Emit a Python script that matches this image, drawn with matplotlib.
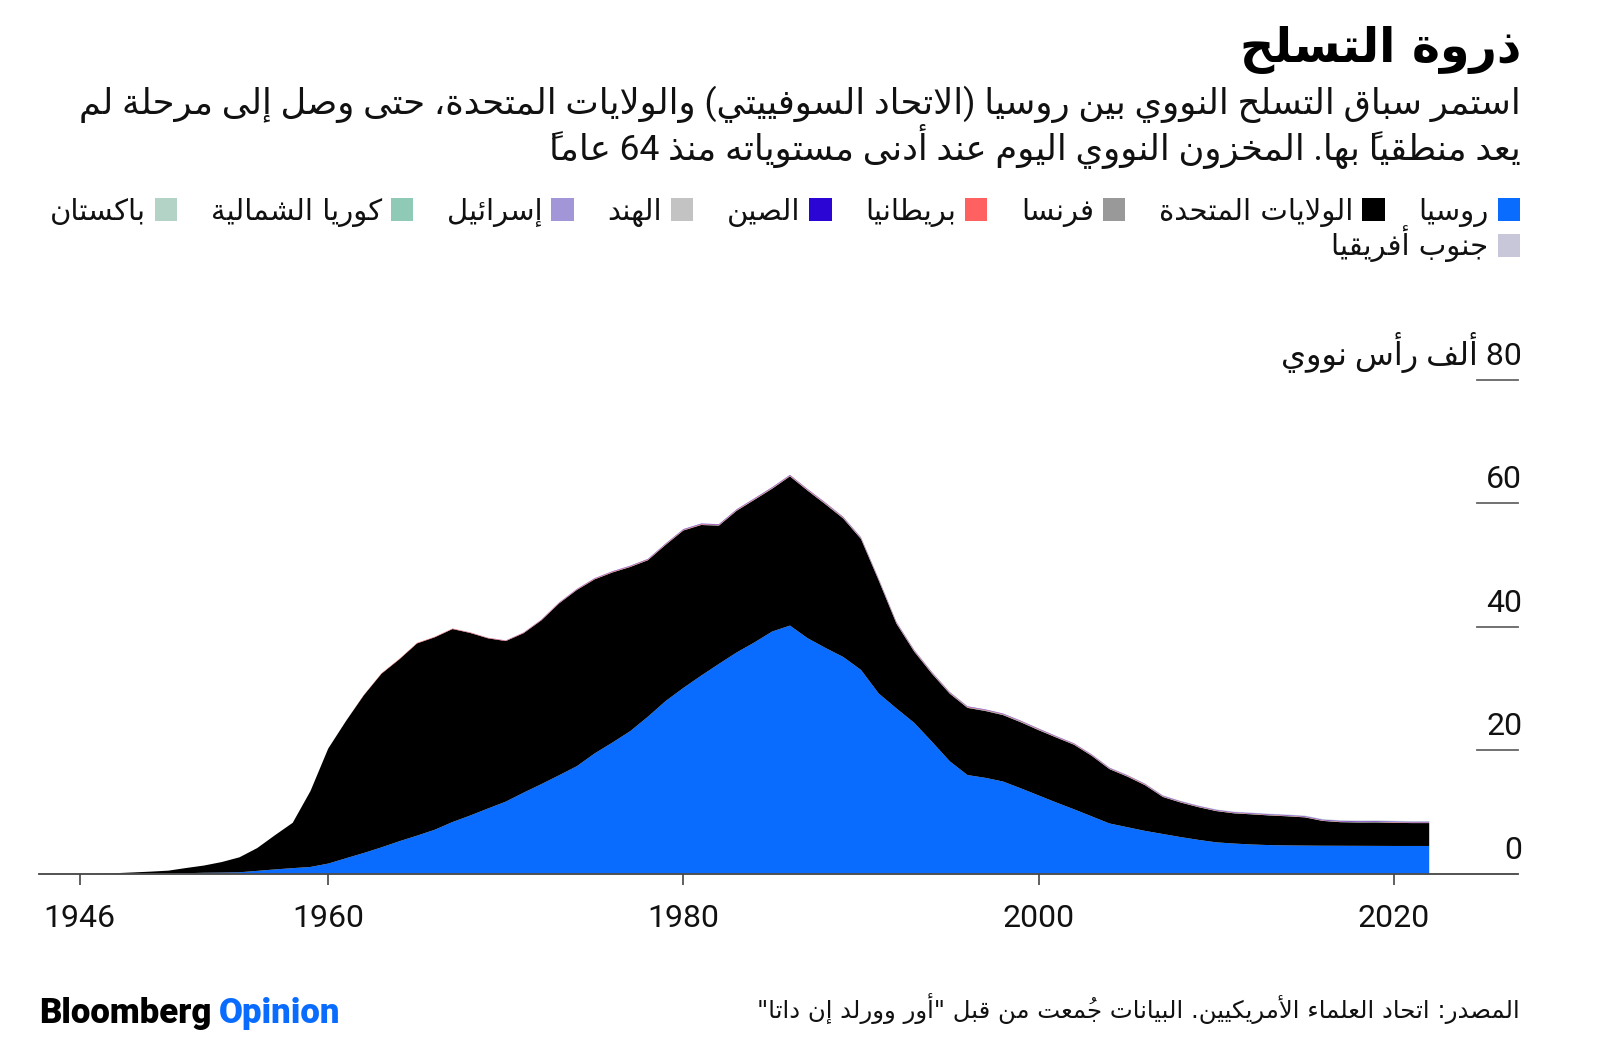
import re
import matplotlib
matplotlib.use("Agg")
import matplotlib.pyplot as plt
from matplotlib.patches import Rectangle

W, H = 1600, 1043

# ---- data (warheads) ----
years = list(range(1945, 2023))

russia = [0, 0, 0, 0, 1, 5, 25, 50, 120, 150,
          200, 426, 660, 869, 1060, 1605, 2471, 3322, 4238, 5221,
          6129, 7089, 8339, 9399, 10538, 11643, 13092, 14478, 15915, 17385,
          19443, 21205, 23044, 25393, 27935, 30062, 32049, 33952, 35804, 37431,
          39197, 40159, 38107, 36538, 35078, 32980, 29154, 26734, 24403, 21339,
          18179, 15942, 15500, 14900, 13800, 12650, 11500, 10400, 9250, 8100,
          7500, 6900, 6400, 5900, 5450, 5050, 4850, 4700, 4600, 4550,
          4520, 4500, 4490, 4480, 4470, 4460, 4460, 4460]

usa = [2, 9, 13, 50, 170, 299, 438, 841, 1169, 1703,
       2422, 3692, 5543, 7345, 12298, 18638, 22229, 25540, 28133, 29463,
       31139, 31175, 31255, 29561, 27552, 26008, 25830, 26516, 27835, 28537,
       28200, 27550, 26600, 25350, 25300, 25500, 24400, 22400, 22950, 23100,
       23130, 24170, 23900, 23270, 22430, 21211, 18306, 13731, 11536, 11012,
       10953, 10886, 10829, 10763, 10698, 10577, 10526, 10457, 9800, 8800,
       8200, 7400, 6000, 5600, 5300, 5066, 4897, 4881, 4804, 4717,
       4571, 4018, 3822, 3785, 3805, 3750, 3708, 3708]

france = [0] * 19 + [1, 8, 9, 9, 9, 9, 9, 12, 18, 30,
                     40, 47, 52, 56, 60, 62, 63, 68, 72, 78,
                     85, 90, 89, 105, 115, 126, 126, 134, 135, 131,
                     127, 125, 112, 112, 112, 117, 117] + [87] * 7 + [75] * 12 + [73] * 3
uk = [0] * 9 + [2, 3, 4, 5, 6, 8, 10, 13, 52, 70, 78, 78] + [70] * 6 + [75, 80, 81] \
     + [87] * 14 + [75] * 7 + [70] * 11 + [60] * 3 + [56] * 5 + [54] * 5 + [56] * 3
china = [0] * 19 + [1, 1, 5, 6, 9, 12, 19, 25, 32, 38,
                    43, 46, 49, 52, 55, 59, 62, 65, 67, 60,
                    60, 60, 56, 57, 57, 58] + [58] * 17 \
        + [60, 62, 62, 64, 65, 68, 70, 72, 74, 75] + [88] * 6
india = [0] * 53 + [5, 6, 8, 10, 12, 14, 16, 18, 20, 22,
                   24, 26, 27, 28, 29, 30, 31, 32, 33, 34,
                   36, 38, 40, 40, 40]
israel = [0] * 22 + [3, 5, 6, 8, 10, 11, 12, 13, 14, 15] + [16] * 10 + [18] * 15 + [20] * 21
north_korea = [0] * 61 + [1, 1, 1, 1, 1, 2, 2, 2, 2, 3, 3, 3, 4, 5, 7, 8, 8]
pakistan = [0] * 53 + [2, 3, 5, 6, 8, 10, 12, 14, 16, 18,
                      20, 22, 24, 26, 28, 30, 31, 32, 33, 34,
                      35, 36, 38, 40, 41]
south_africa = [0] * 34 + [1] * 12 + [0] * 32

series_names = ["روسيا", "الولايات المتحدة", "فرنسا", "بريطانيا", "الصين",
                "الهند", "إسرائيل", "كوريا الشمالية", "باكستان", "جنوب أفريقيا"]
series_colors = ["#0a6cff", "#000000", "#999999", "#ff6161", "#2a05d3",
                 "#c3c3c3", "#a296d8", "#8fcab6", "#b4d3c7", "#c8c7d9"]

x_ticks = [1946, 1960, 1980, 2000, 2020]
y_ticks = [0, 20000, 40000, 60000, 80000]
y_tick_labels = ["0", "20", "40", "60", "80 ألف رأس نووي"]

title = "ذروة التسلح"
subtitle = ["استمر سباق التسلح النووي بين روسيا (الاتحاد السوفييتي) والولايات المتحدة، حتى وصل إلى مرحلة لم",
            "يعد منطقياً بها. المخزون النووي اليوم عند أدنى مستوياته منذ 64 عاماً"]
source = 'المصدر: اتحاد العلماء الأمريكيين. البيانات جُمعت من قبل "أور وورلد إن داتا"'


# ---- minimal Arabic shaping + right-to-left ordering (no reshaper lib available) ----
DUAL = {'ئ': 0xFE89, 'ب': 0xFE8F, 'ت': 0xFE95, 'ث': 0xFE99, 'ج': 0xFE9D, 'ح': 0xFEA1,
        'خ': 0xFEA5, 'س': 0xFEB1, 'ش': 0xFEB5, 'ص': 0xFEB9, 'ض': 0xFEBD, 'ط': 0xFEC1,
        'ظ': 0xFEC5, 'ع': 0xFEC9, 'غ': 0xFECD, 'ف': 0xFED1, 'ق': 0xFED5, 'ك': 0xFED9,
        'ل': 0xFEDD, 'م': 0xFEE1, 'ن': 0xFEE5, 'ه': 0xFEE9, 'ي': 0xFEF1}
RIGHT = {'آ': 0xFE81, 'أ': 0xFE83, 'ؤ': 0xFE85, 'إ': 0xFE87, 'ا': 0xFE8D, 'ة': 0xFE93,
         'د': 0xFEA9, 'ذ': 0xFEAB, 'ر': 0xFEAD, 'ز': 0xFEAF, 'و': 0xFEED, 'ى': 0xFEEF}
LAMALEF = {'آ': 0xFEF5, 'أ': 0xFEF7, 'إ': 0xFEF9, 'ا': 0xFEFB}
MARKS = {chr(c) for c in range(0x064B, 0x0653)}


def shape(text):
    ch = list(text)
    n = len(ch)

    def near(i, step):
        j = i + step
        while 0 <= j < n and ch[j] in MARKS:
            j += step
        return ch[j] if 0 <= j < n else ''

    out, i = [], 0
    while i < n:
        c = ch[i]
        joins_prev = near(i, -1) in DUAL
        if c == 'ل':
            j = i + 1
            while j < n and ch[j] in MARKS:
                j += 1
            if j < n and ch[j] in LAMALEF:
                out.append(chr(LAMALEF[ch[j]] + (1 if joins_prev else 0)))
                out.extend(ch[i + 1:j])
                i = j + 1
                continue
        if c in DUAL:
            nxt = near(i, 1)
            joins_next = nxt in DUAL or nxt in RIGHT
            form = 3 if (joins_prev and joins_next) else 2 if joins_next else 1 if joins_prev else 0
            out.append(chr(DUAL[c] + form))
        elif c in RIGHT:
            out.append(chr(RIGHT[c] + (1 if joins_prev else 0)))
        elif c == 'ء':
            out.append('\uFE80')
        else:
            out.append(c)
        i += 1
    return ''.join(out)


def ar(text):
    # reverse everything except digit runs; marks then land just before their base
    runs = re.findall(r'[0-9]+|.', shape(text))
    mirror = {'(': ')', ')': '('}
    return ''.join(mirror.get(c, c) for c in reversed(runs))


def P(x, y):
    return x / W, 1 - y / H


AR = ['DejaVu Sans']
MIX = ['Roboto', 'DejaVu Sans']

fig = plt.figure(figsize=(W / 100, H / 100), dpi=100)
fig.patch.set_facecolor('white')
rend = fig.canvas.get_renderer()


def fit(t, width):
    w = t.get_window_extent(rend).width
    t.set_fontsize(t.get_fontsize() * width / w)
    return t


# ---- chart ----
X0, X1, Y0, Y80 = 38.8, 1518.0, 873.5, 379.6
ax = fig.add_axes([X0 / W, 1 - Y0 / H, (X1 - X0) / W, (Y0 - Y80) / H])
ax.stackplot(years, russia, usa, france, uk, china, india, israel, north_korea,
             pakistan, south_africa, colors=series_colors, linewidth=0)
ax.set_xlim(1943.7, 2027.0)
ax.set_ylim(0, 80000)
for s in ['top', 'right', 'left']:
    ax.spines[s].set_visible(False)
ax.spines['bottom'].set_color('#444')
ax.spines['bottom'].set_linewidth(1.3)
ax.set_xticks(x_ticks)
ax.set_xticklabels([str(v) for v in x_ticks], fontsize=23, family='Roboto', color='#111')
ax.tick_params(axis='x', length=8, width=1.2, color='#444', pad=14)
ax.set_yticks([])

ytr = ax.get_yaxis_transform()
for v, lab in zip(y_ticks, y_tick_labels):
    if v > 0:
        ax.plot([0.972, 1.0], [v, v], transform=ytr, color='#666', lw=1.3, clip_on=False)
    ax.annotate(ar(lab), xy=(1.0, v), xycoords=ytr, xytext=(3, 10.5),
                textcoords='offset points', ha='right', va='baseline',
                fontsize=23, family=MIX, color='#111')

# ---- title / subtitle ----
t = fig.text(*P(1521, 62), ar(title), ha='right', va='baseline',
             fontsize=34, fontweight='bold', family=AR, color='#000')
fit(t, 282)

sub = [fig.text(*P(1521, y), ar(s), ha='right', va='baseline', fontsize=24,
                family=MIX, color='#111') for s, y in zip(subtitle, [114, 160])]
fit(sub[0], 1451)
sub[1].set_fontsize(sub[0].get_fontsize())

# ---- legend (right to left) ----
SQ, GAP_IN, GAP_OUT = 22.5, 9, 13
rows = [list(zip(series_names[:9], series_colors[:9])),
        list(zip(series_names[9:], series_colors[9:]))]
row_y = [209.5, 245.5]
leg_fs = 22
probe = [fig.text(0, 0, ar(n), fontsize=leg_fs, family=AR) for n, _ in rows[0]]
tw = sum(p.get_window_extent(rend).width for p in probe)
for p in probe:
    p.remove()
fixed = len(rows[0]) * (SQ + GAP_IN) + (len(rows[0]) - 1) * GAP_OUT
leg_fs = min(21, leg_fs * (1520 - 49 - fixed) / tw)
GAP_OUT = (1520 - 49 - len(rows[0]) * (SQ + GAP_IN) - tw * leg_fs / 22) / (len(rows[0]) - 1)

for row, yc in zip(rows, row_y):
    x = 1520
    for name, col in row:
        fig.add_artist(Rectangle(P(x - SQ, yc + SQ / 2), SQ / W, SQ / H,
                                 transform=fig.transFigure, color=col, lw=0))
        x -= SQ + GAP_IN
        lt = fig.text(*P(x, yc + 10), ar(name), ha='right', va='baseline',
                      fontsize=leg_fs, family=AR, color='#111')
        x -= lt.get_window_extent(rend).width + GAP_OUT

# ---- footer ----
b1 = fig.text(*P(39, 1023), "Bloomberg", ha='left', va='baseline', fontsize=25,
              fontweight='heavy', family='Roboto', color='#000')
w1 = b1.get_window_extent(rend).width
fig.text(*P(39 + w1 + 8, 1023), "Opinion", ha='left', va='baseline', fontsize=25,
         fontweight='heavy', family='Roboto', color='#0a6cff')

src = fig.text(*P(1520, 1018), ar(source), ha='right', va='baseline', fontsize=19,
               family=AR, color='#111')
fit(src, 763)

fig.savefig("out.png", dpi=100)
plt.close(fig)
